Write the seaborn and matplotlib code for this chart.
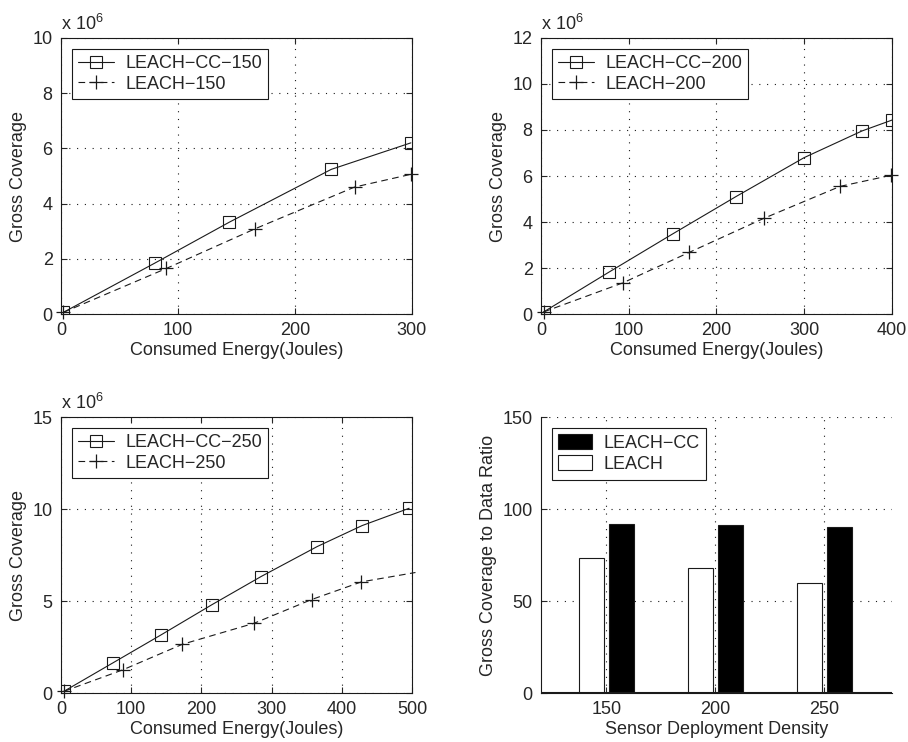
import pandas as pd
import matplotlib
matplotlib.use("Agg")
import matplotlib.pyplot as plt
import seaborn as sns
from matplotlib.patches import Patch

# gross coverage vs consumed energy (coverage in units of 1e6)
energy_cc_150 = [2, 80, 144, 231, 299]
cover_cc_150 = [0.06, 1.84, 3.33, 5.24, 6.20]
energy_l_150 = [2, 90, 166, 251, 299]
cover_l_150 = [0.06, 1.65, 3.09, 4.60, 5.06]

energy_cc_200 = [3, 77, 150, 222, 300, 366, 400]
cover_cc_200 = [0.09, 1.81, 3.48, 5.10, 6.80, 7.96, 8.43]
energy_l_200 = [3, 93, 169, 254, 341, 399]
cover_l_200 = [0.09, 1.35, 2.68, 4.16, 5.55, 6.03]

energy_cc_250 = [4, 74, 143, 215, 285, 365, 429, 496]
cover_cc_250 = [0.09, 1.64, 3.17, 4.80, 6.33, 7.96, 9.10, 10.04]
energy_l_250 = [4, 88, 173, 275, 357, 428, 505]
cover_l_250 = [0.09, 1.26, 2.65, 3.79, 5.08, 6.04, 6.55]

# gross coverage to data ratio per deployment density
densities = [150, 200, 250]
ratio_cc = [92.0, 91.5, 90.2]
ratio_leach = [73.3, 67.7, 59.6]

sns.set_theme(style="ticks")
plt.rcParams["font.family"] = ["Liberation Sans", "DejaVu Sans"]
plt.rcParams["mathtext.fontset"] = "custom"
plt.rcParams["mathtext.rm"] = "Liberation Sans"
plt.rcParams["axes.linewidth"] = 0.8
plt.rcParams["axes.edgecolor"] = "black"

FS = 13
GRID = (0, (1, 6))

fig = plt.figure(figsize=(9.08, 7.42), dpi=100)
w, h = 0.3865, 0.372
ax1 = fig.add_axes([0.0672, 0.5768, w, h])
ax2 = fig.add_axes([0.5958, 0.5768, w, h])
ax3 = fig.add_axes([0.0672, 0.066, w, h])
ax4 = fig.add_axes([0.5958, 0.066, w, h])


def line_panel(ax, ecc, ccc, el, cl, n, xmax, ymax, ystep, markevery=None):
    sns.lineplot(x=ecc, y=ccc, ax=ax, color="k", lw=0.8, marker="s", ms=8,
                 mfc="none", mec="k", mew=0.8, sort=False,
                 label=f"LEACH\u2212CC\u2212{n}")
    sns.lineplot(x=el, y=cl, ax=ax, color="k", lw=0.8, marker="+", ms=10,
                 mec="k", mew=0.9, sort=False, markevery=markevery,
                 label=f"LEACH\u2212{n}")
    ax.lines[1].set_dashes([6, 4])
    ax.lines[1].set_clip_on(False)
    ax.set_xlim(0, xmax)
    ax.set_ylim(0, ymax)
    ax.set_xticks(range(0, xmax + 1, 100))
    ax.set_yticks(range(0, ymax + 1, ystep))
    ax.grid(True, linestyle=GRID, color="k", lw=0.8)
    ax.tick_params(direction="in", top=True, right=True, length=4,
                   labelsize=FS, width=0.8, pad=6)
    ax.set_xlabel("Consumed Energy(Joules)", fontsize=FS, labelpad=2)
    ax.set_ylabel("Gross Coverage", fontsize=FS, labelpad=4)
    ax.text(0.0, 1.015, r"x 10$^{\mathregular{6}}$", transform=ax.transAxes,
            ha="left", va="bottom", fontsize=FS)
    leg = ax.legend(loc="upper left", fontsize=FS, fancybox=False,
                    edgecolor="k", framealpha=1, borderaxespad=0.6,
                    labelspacing=0.2, handletextpad=0.6, handlelength=2.0,
                    borderpad=0.35)
    leg.get_frame().set_linewidth(0.8)
    for sp in ax.spines.values():
        sp.set_color("k")


line_panel(ax1, energy_cc_150, cover_cc_150, energy_l_150, cover_l_150,
           150, 300, 10, 2)
line_panel(ax2, energy_cc_200, cover_cc_200, energy_l_200, cover_l_200,
           200, 400, 12, 2)
line_panel(ax3, energy_cc_250, cover_cc_250, energy_l_250, cover_l_250,
           250, 500, 15, 5, markevery=list(range(len(energy_l_250) - 1)))

# bar chart
df = pd.DataFrame({
    "density": densities * 2,
    "ratio": ratio_leach + ratio_cc,
    "method": ["LEACH"] * 3 + ["LEACH-CC"] * 3,
})
sns.barplot(data=df, x="density", y="ratio", hue="method", ax=ax4,
            native_scale=True, width=0.56, gap=0.18, saturation=1,
            hue_order=["LEACH", "LEACH-CC"],
            palette={"LEACH": "white", "LEACH-CC": "black"},
            edgecolor="k", linewidth=0.8, legend=False)
ax4.set_xlim(120, 281)
ax4.set_ylim(0, 150)
ax4.set_xticks(densities)
ax4.set_yticks([0, 50, 100, 150])
ax4.grid(True, linestyle=GRID, color="k", lw=0.8)
ax4.set_axisbelow(True)
ax4.axhline(0, color="k", lw=1.5)
ax4.tick_params(direction="in", length=4, labelsize=FS, width=0.8, pad=6)
for side in ["top", "right"]:
    ax4.spines[side].set_visible(False)
ax4.spines["left"].set_color("k")
ax4.spines["bottom"].set_color("k")
ax4.set_xlabel("Sensor Deployment Density", fontsize=FS, labelpad=2)
ax4.set_ylabel("Gross Coverage to Data Ratio", fontsize=FS, labelpad=4)
handles = [Patch(facecolor="black", edgecolor="k", lw=0.8),
           Patch(facecolor="white", edgecolor="k", lw=0.8)]
leg = ax4.legend(handles, ["LEACH\u2212CC", "LEACH"], loc="upper left",
                 fontsize=FS, fancybox=False, edgecolor="k", framealpha=1,
                 borderaxespad=0.6, labelspacing=0.2, handletextpad=0.6,
                 handlelength=1.9, handleheight=0.9, borderpad=0.35)
leg.get_frame().set_linewidth(0.8)

fig.savefig("out.png", dpi=100)
